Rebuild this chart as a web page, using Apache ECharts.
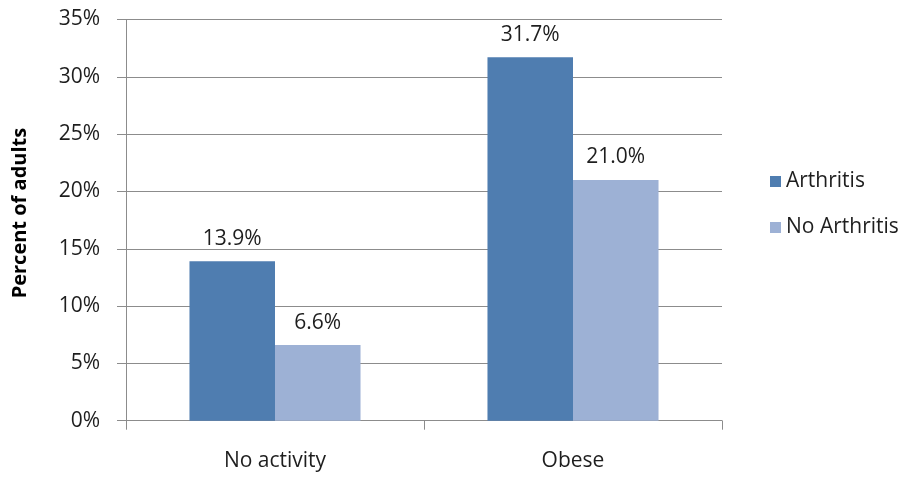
<!DOCTYPE html>
<html>
<head>
<meta charset="utf-8">
<script src="https://cdn.jsdelivr.net/npm/echarts@6/dist/echarts.min.js"></script>
<style>
  html, body { margin: 0; padding: 0; background: #fff; }
  #chart { width: 911px; height: 479px; }
</style>
</head>
<body>
<div id="chart"></div>
<script>
// Categories and series values (percent of adults)
const categories = ['No activity', 'Obese'];
const arthritis = [13.9, 31.7];
const noArthritis = [6.6, 21.0];
const yTicks = [0, 5, 10, 15, 20, 25, 30, 35];

const font = '"Open Sans", Lato, sans-serif';
const gridColor = '#8c8c8c';
const textColor = '#1e1e1e';

const chart = echarts.init(document.getElementById('chart'));
chart.setOption({
  animation: false,
  textStyle: { fontFamily: font },
  grid: { left: 126, right: 189, top: 19.5, bottom: 58.3, containLabel: false, outerBoundsMode: 'none' },
  legend: {
    orient: 'vertical',
    left: 765,
    top: 166,
    itemWidth: 11,
    itemHeight: 11,
    itemGap: 25,
    icon: 'rect',
    textStyle: { fontFamily: font, fontSize: 21, color: textColor },
    data: ['Arthritis', 'No Arthritis']
  },
  xAxis: {
    type: 'category',
    data: categories,
    axisLine: { lineStyle: { color: gridColor, width: 1 } },
    axisTick: { show: true, length: 9, alignWithLabel: false, lineStyle: { color: gridColor } },
    axisLabel: { fontFamily: font, fontSize: 21, color: textColor, margin: 30 }
  },
  yAxis: {
    type: 'value',
    min: yTicks[0],
    max: yTicks[yTicks.length - 1],
    interval: 5,
    name: 'Percent of adults',
    nameLocation: 'middle',
    nameGap: 96,
    nameRotate: 90,
    nameTextStyle: { fontFamily: font, fontSize: 20, fontWeight: 'bold', color: '#000', padding: [0, 0, 0, 14] },
    axisLine: { show: true, lineStyle: { color: gridColor } },
    axisTick: { show: true, length: 9, inside: false, lineStyle: { color: gridColor } },
    splitLine: { lineStyle: { color: gridColor, width: 1 } },
    axisLabel: { fontFamily: font, fontSize: 21, color: textColor, margin: 26, formatter: v => v + '%' }
  },
  series: [
    {
      name: 'Arthritis',
      type: 'bar',
      data: arthritis,
      barGap: '0%',
      barCategoryGap: '42.6%',
      itemStyle: { color: '#4F7DB0' },
      label: { show: true, position: 'top', distance: 12, fontFamily: font, fontSize: 21, color: textColor,
               formatter: p => p.value.toFixed(1) + '%' }
    },
    {
      name: 'No Arthritis',
      type: 'bar',
      data: noArthritis,
      itemStyle: { color: '#9DB1D5' },
      label: { show: true, position: 'top', distance: 12, fontFamily: font, fontSize: 21, color: textColor,
               formatter: p => p.value.toFixed(1) + '%' }
    }
  ]
});
</script>
</body>
</html>
